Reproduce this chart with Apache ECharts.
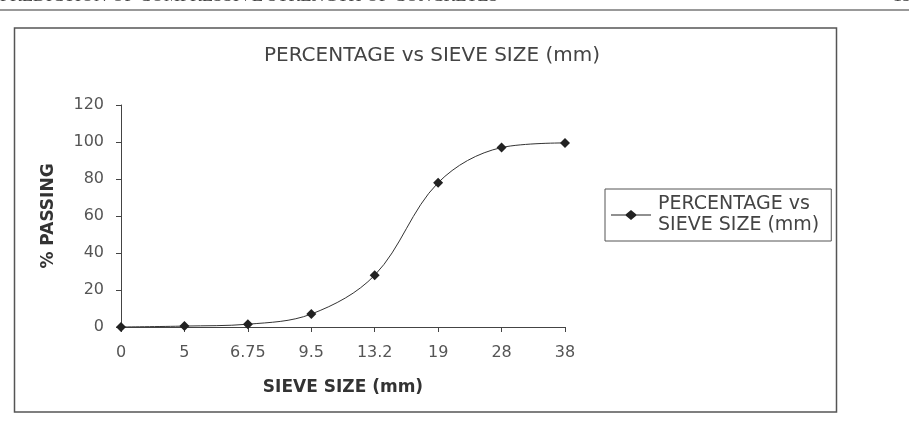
<!DOCTYPE html>
<html>
<head>
<meta charset="utf-8">
<script src="https://cdn.jsdelivr.net/npm/echarts@6/dist/echarts.min.js"></script>
<style>
html,body{margin:0;padding:0;background:#fff;}
#graph1{width:909px;height:428px;}
</style>
</head>
<body>
<div id="graph1"></div>
<script>
// sieve sizes (category labels) and % passing
var sieveSizes=['0','5','6.75','9.5','13.2','19','28','38'];
var passing=[0,0.5,1.5,7,28,78,97,99.5];
var yTicks={min:0,max:120,step:20};
var seriesName='PERCENTAGE vs SIEVE SIZE (mm)';

var main=document.getElementById("graph1");
var myChart=echarts.init(main);

var option={
  animation:false,
  backgroundColor:'#fff',
  title:{
    text:'PERCENTAGE vs SIEVE SIZE (mm)',
    left:427,
    top:41,
    textAlign:'center',
    textStyle:{fontFamily:'DejaVu Sans',fontSize:20,fontWeight:'normal',color:'#444'}
  },
  legend:{
    data:[seriesName],
    orient:'vertical',
    left:605,
    top:189,
    padding:[5,12,5,6],
    borderColor:'#555',
    borderWidth:1,
    itemWidth:44,
    itemHeight:10,
    itemGap:4,
    icon:'path://M0,5 L16,5 L22,0 L28,5 L44,5 L44,6 L28,6 L22,11 L16,6 L0,6 Z',
    formatter:function(){return 'PERCENTAGE vs\nSIEVE SIZE (mm)';},
    textStyle:{fontFamily:'DejaVu Sans',fontSize:19,color:'#444',lineHeight:21}
  },
  grid:{left:121,right:344,top:105,bottom:101},
  xAxis:{
    type:'category',
    boundaryGap:false,
    data:sieveSizes,
    name:'SIEVE SIZE (mm)',
    nameLocation:'middle',
    nameGap:52,
    nameTextStyle:{fontFamily:'DejaVu Sans',fontSize:17,fontWeight:'bold',color:'#333'},
    axisLine:{lineStyle:{color:'#444',width:1}},
    axisTick:{show:true,inside:false,length:5,lineStyle:{color:'#444'}},
    axisLabel:{fontFamily:'DejaVu Sans',fontSize:16,color:'#555',margin:18}
  },
  yAxis:{
    type:'value',
    min:yTicks.min,
    max:yTicks.max,
    interval:yTicks.step,
    name:'% PASSING',
    nameLocation:'middle',
    nameGap:64,
    nameTextStyle:{fontFamily:'DejaVu Sans',fontSize:17,fontWeight:'bold',color:'#333'},
    splitLine:{show:false},
    axisLine:{show:true,lineStyle:{color:'#444',width:1}},
    axisTick:{show:true,length:5,lineStyle:{color:'#444'}},
    axisLabel:{fontFamily:'DejaVu Sans',fontSize:16,color:'#555',margin:17}
  },
  series:[{
    name:seriesName,
    type:'line',
    smooth:0.35,
    symbol:'diamond',
    symbolSize:10,
    itemStyle:{color:'#222'},
    lineStyle:{color:'#333',width:1},
    data:passing
  }],
  graphic:[
    // running header of the page, cut off at the top
    {type:'text',left:0,top:-13,style:{text:'PREDICTION OF COMPRESSIVE STRENGTH OF CONCRETES',fontFamily:'Liberation Serif',fontSize:18,fill:'#444'}},
    {type:'text',left:893,top:-13,style:{text:'15',fontFamily:'Liberation Serif',fontSize:18,fill:'#444'}},
    {type:'line',shape:{x1:0,y1:10,x2:909,y2:10},style:{stroke:'#777',lineWidth:1.5}},
    // chart frame
    {type:'rect',shape:{x:14.5,y:28,width:822,height:384},style:{fill:null,stroke:'#555',lineWidth:1.5},z:-1}
  ]
};

myChart.setOption(option);
</script>
</body>
</html>
